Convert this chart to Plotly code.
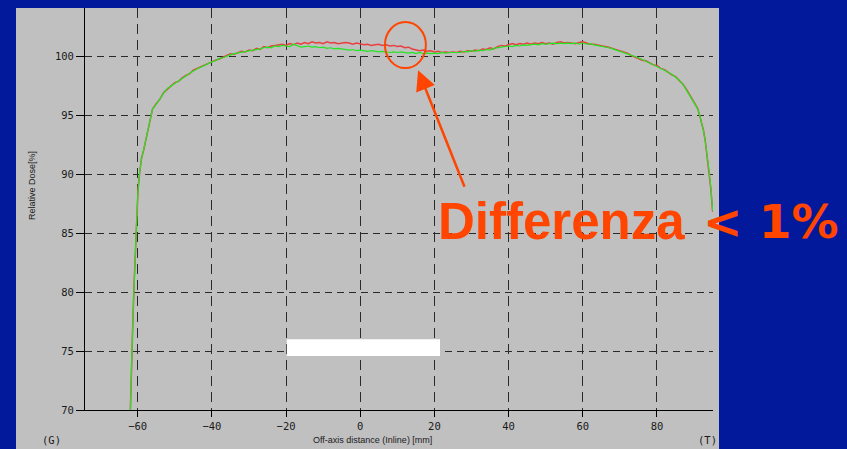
import plotly.graph_objects as go

W, H = 847, 449
# plot-area edges in pixels
L, R, T, B = 85, 713, 8, 410

BLUE = "#03199b"
PANEL = "#c0c0c0"
ORANGE = "#ff4500"
GRID = "#2a2a2a"

# ---- profile data: off-axis distance [mm] and relative dose [%] ----
x_left = [-62.0, -61.8, -61.6, -61.3, -61.0, -60.8, -60.5, -60.2, -59.9, -59.5,
          -59.0, -58.4, -57.7, -57.0, -56.4, -56.0]
x_mid = [-55, -54, -53, -52, -51, -50, -49, -48, -47, -46,
         -45, -44, -43, -42, -41, -40, -39, -38, -37, -36,
         -35, -34, -33, -32, -31, -30, -29, -28, -27, -26,
         -25, -24, -23, -22, -21, -20, -19, -18, -17, -16,
         -15, -14, -13, -12, -11, -10, -9, -8, -7, -6,
         -5, -4, -3, -2, -1, 0, 1, 2, 3, 4,
         5, 6, 7, 8, 9, 10, 11, 12, 13, 14,
         15, 16, 17, 18, 19, 20, 21, 22, 23, 24,
         25, 26, 27, 28, 29, 30, 31, 32, 33, 34,
         35, 36, 37, 38, 39, 40, 41, 42, 43, 44,
         45, 46, 47, 48, 49, 50, 51, 52, 53, 54,
         55, 56, 57, 58, 59, 60, 61, 62, 63, 64,
         65, 66, 67, 68, 69, 70, 71, 72, 73, 74,
         75, 76, 77, 78, 79, 80, 81, 82, 83, 84,
         85, 86, 87, 88]
x_right = [89.0, 90.0, 91.0, 91.5, 92.0, 92.5, 93.0, 93.5, 94.0, 94.5, 95.0]

green_left = [69.6, 72.5, 75.0, 77.6, 80.2, 82.2, 84.2, 86.6, 88.6, 90.1,
              91.2, 92.1, 93.0, 94.0, 95.0, 95.5]
green_mid = [95.9, 96.4, 96.85, 97.25, 97.45, 97.7, 97.9, 98.1, 98.3, 98.55,
             98.75, 98.9, 99.05, 99.2, 99.4, 99.5, 99.6, 99.8, 99.85, 100.0,
             100.1, 100.2, 100.25, 100.35, 100.4, 100.45, 100.5, 100.55, 100.6, 100.7,
             100.75, 100.7, 100.85, 100.8, 100.9, 100.85, 100.8, 101.0, 100.85, 100.75,
             100.8, 100.85, 100.75, 100.8, 100.7, 100.75, 100.65, 100.7, 100.6, 100.65,
             100.6, 100.55, 100.5, 100.55, 100.45, 100.5, 100.45, 100.4, 100.45, 100.4,
             100.35, 100.4, 100.35, 100.3, 100.35, 100.3, 100.35, 100.3, 100.25, 100.3,
             100.2, 100.3, 100.2, 100.25, 100.2, 100.25, 100.2, 100.3, 100.25, 100.3,
             100.3, 100.35, 100.3, 100.4, 100.35, 100.45, 100.4, 100.5, 100.45, 100.55,
             100.5, 100.65, 100.7, 100.75, 100.8, 100.85, 100.8, 100.9, 100.85, 100.95,
             100.9, 100.95, 101.0, 100.95, 101.05, 101.0, 101.05, 101.1, 101.05, 101.1,
             101.05, 101.1, 101.05, 101.1, 101.0, 101.1, 101.0, 101.05, 100.95, 100.9,
             100.85, 100.8, 100.7, 100.6, 100.5, 100.4, 100.3, 100.2, 100.1, 99.95,
             99.85, 99.7, 99.55, 99.45, 99.3, 99.15, 99.0, 98.8, 98.6, 98.45,
             98.2, 97.95, 97.6, 97.1]
green_right = [96.6, 96.1, 95.5, 95.0, 94.4, 93.7, 92.8, 91.7, 90.4, 88.9, 86.9]

red_left = [69.6, 72.6, 75.3, 77.5, 80.4, 82.1, 84.4, 86.5, 88.7, 90.0,
            91.3, 92.0, 93.1, 93.9, 95.1, 95.5]
red_mid = [95.95, 96.35, 96.9, 97.2, 97.5, 97.75, 97.85, 98.15, 98.35, 98.5,
           98.8, 98.95, 99.1, 99.25, 99.35, 99.55, 99.65, 99.75, 99.9, 100.05,
           100.2, 100.15, 100.3, 100.4, 100.35, 100.5, 100.45, 100.65, 100.55, 100.8,
           100.7, 100.85, 100.9, 100.95, 101.0, 100.9, 101.05, 100.95, 101.1, 101.0,
           101.15, 101.05, 101.2, 101.1, 101.15, 101.05, 101.2, 101.1, 101.15, 101.05,
           101.1, 101.15, 101.1, 101.0, 101.1, 101.05, 100.95, 101.0, 100.9, 100.95,
           101.0, 100.9, 100.95, 100.85, 100.9, 100.8, 100.85, 100.7, 100.75, 100.6,
           100.55, 100.45, 100.5, 100.4, 100.45, 100.35, 100.4, 100.3, 100.35, 100.3,
           100.35, 100.3, 100.4, 100.35, 100.45, 100.4, 100.5, 100.45, 100.6, 100.55,
           100.7, 100.6, 100.8, 100.9, 100.85, 100.95, 101.05, 100.95, 101.05, 101.0,
           101.1, 101.0, 101.1, 101.05, 101.15, 101.05, 101.1, 101.0, 101.15, 101.2,
           101.1, 101.15, 101.1, 101.05, 101.15, 101.2, 101.1, 101.0, 101.0, 100.95,
           100.9, 100.85, 100.75, 100.65, 100.55, 100.45, 100.35, 100.25, 100.05, 99.9,
           99.75, 99.65, 99.6, 99.4, 99.25, 99.2, 98.95, 98.85, 98.6, 98.4,
           98.25, 97.9, 97.6, 97.15]
red_right = [96.65, 96.05, 95.55, 94.95, 94.45, 93.75, 92.85, 91.6, 90.5, 88.8, 86.8]

x_mm = x_left + x_mid + x_right
dose_green = green_left + green_mid + green_right
dose_red = red_left + red_mid + red_right

x_ticks = [-60, -40, -20, 0, 20, 40, 60, 80]
y_ticks = [70, 75, 80, 85, 90, 95, 100]
x_range = [-74.2, 95.1]
y_range = [70, 104.07]

x_title = "Off-axis distance (Inline) [mm]"
y_title = "Relative Dose[%]"
side_left = "(G)"
side_right = "(T)"
callout_word = "Differenza"
callout_value = "&lt; 1%"


def px_x(px):
    return (px - L) / (R - L)


def px_y(py):
    return (B - py) / (B - T)


fig = go.Figure()
fig.add_trace(go.Scatter(x=x_mm, y=dose_red, mode="lines",
                         line=dict(color="#e84040", width=1.5), showlegend=False))
fig.add_trace(go.Scatter(x=x_mm, y=dose_green, mode="lines",
                         line=dict(color="#22e622", width=1.2), showlegend=False))

tick_font = dict(family="DejaVu Sans Mono", size=10.5, color="#1a1a1a")

fig.update_layout(
    width=W, height=H, autosize=False,
    margin=dict(l=L, r=W - R, t=T, b=H - B, pad=0),
    paper_bgcolor=BLUE, plot_bgcolor=PANEL,
    xaxis=dict(range=x_range, tickvals=x_ticks, ticks="outside", ticklen=6,
               tickcolor="black", showline=True, linecolor="black", linewidth=1,
               showgrid=True, gridcolor=GRID, gridwidth=1, griddash="10px,6px",
               zeroline=False, tickfont=tick_font),
    yaxis=dict(range=y_range, tickvals=y_ticks, ticks="outside", ticklen=8,
               tickcolor="black", showline=True, linecolor="black", linewidth=1,
               showgrid=True, gridcolor=GRID, gridwidth=1, griddash="7px,5px",
               zeroline=False, tickfont=tick_font),
    shapes=[
        dict(type="rect", xref="paper", yref="paper", layer="below",
             x0=px_x(16), x1=px_x(719), y0=px_y(449), y1=px_y(8),
             fillcolor=PANEL, line=dict(width=0)),
        dict(type="rect", xref="x", yref="y", layer="above",
             x0=-19.8, x1=21.5, y0=74.58, y1=76.0,
             fillcolor="white", line=dict(width=0)),
        dict(type="circle", xref="x", yref="y", layer="above",
             x0=6.66, x1=17.7, y0=98.98, y1=102.88,
             line=dict(color=ORANGE, width=2)),
    ],
    annotations=[
        dict(x=15.6, y=98.8, xref="x", yref="y", text="", showarrow=True,
             ax=47, ay=118, arrowhead=2, arrowsize=1.6, arrowwidth=2.5,
             arrowcolor=ORANGE),
        dict(x=px_x(436), y=px_y(221), xref="paper", yref="paper",
             text=f"<b>{callout_word}</b>", showarrow=False,
             xanchor="left", yanchor="middle",
             font=dict(family="Liberation Sans", size=51, color=ORANGE)),
        dict(x=px_x(841), y=px_y(221), xref="paper", yref="paper",
             text=f"<b>{callout_value}</b>", showarrow=False,
             xanchor="right", yanchor="middle",
             font=dict(family="DejaVu Sans", size=47, color=ORANGE)),
        dict(x=px_x(372), y=px_y(440), xref="paper", yref="paper",
             text=x_title, showarrow=False, xanchor="center", yanchor="middle",
             font=dict(family="Liberation Sans", size=9, color="#1a1a1a")),
        dict(x=px_x(51), y=px_y(440), xref="paper", yref="paper",
             text=side_left, showarrow=False, xanchor="center", yanchor="middle",
             font=tick_font),
        dict(x=px_x(707), y=px_y(440), xref="paper", yref="paper",
             text=side_right, showarrow=False, xanchor="center", yanchor="middle",
             font=tick_font),
        dict(x=px_x(32), y=px_y(186), xref="paper", yref="paper",
             text=y_title, showarrow=False, textangle=-90,
             xanchor="center", yanchor="middle",
             font=dict(family="Liberation Sans", size=9, color="#1a1a1a")),
    ],
)

fig.write_html("out.html")
